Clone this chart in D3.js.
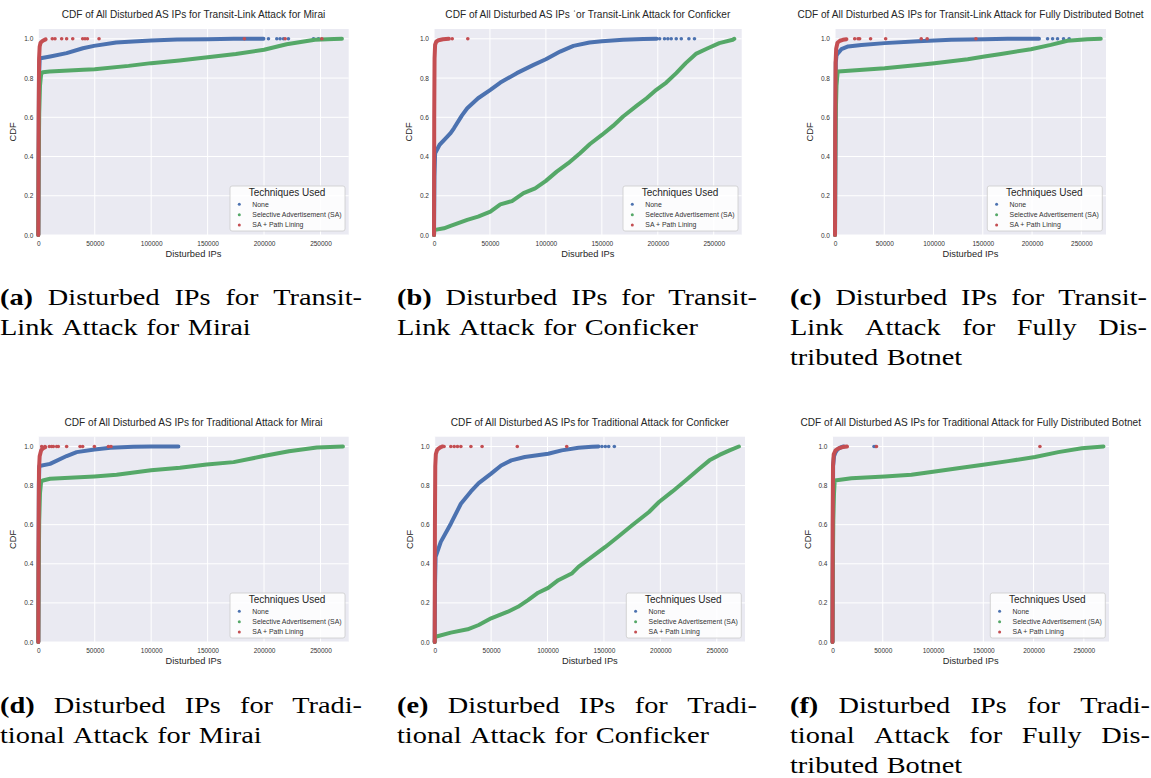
<!DOCTYPE html>
<html><head><meta charset="utf-8">
<script src="https://cdn.jsdelivr.net/npm/d3@7/dist/d3.min.js"></script>
<style>body{margin:0;background:#fff}svg{display:block}</style>
</head><body>
<svg id="chart" width="1151" height="778"></svg>
<script>
// ---------- shared ----------
const xTicks = [0, 50000, 100000, 150000, 200000, 250000];
const yTicks = [0, 0.2, 0.4, 0.6, 0.8, 1.0];
const seriesNames = ["None", "Selective Advertisement (SA)", "SA + Path Lining"];
const xMax = 275000, yMax = 1.05;

// ---------- (a) Transit-Link, Mirai ----------
const a_none = [[0,0],[600,0.8],[1200,0.895],[2000,0.901],[10600,0.91],[25100,0.927],[39500,0.952],[49300,0.964],[69000,0.981],[84000,0.986],[100000,0.991],[123000,0.997],[150000,0.998],[173000,1.0],[199500,1.0]];
const a_none_tail = [203900,211300,214200,217200,221600,243800,248200];
const a_sa = [[0,0],[300,0.35],[800,0.62],[1500,0.76],[2500,0.82],[4000,0.83],[10000,0.833],[40000,0.842],[50000,0.845],[80000,0.862],[100000,0.876],[125000,0.89],[150000,0.906],[175000,0.923],[200000,0.944],[220000,0.972],[245000,0.995],[262000,0.999],[269000,1.0]];
const a_sa_tail = [];
const a_pl = [[0,0],[300,0.6],[700,0.9],[1200,0.96],[2000,0.98],[4000,0.99],[6500,0.997]];
const a_pl_tail = [12400,14800,20700,25100,30500,39300,41400,43500,53800,182600,218700,251200];

// ---------- (b) Transit-Link, Conficker ----------
const b_none = [[0,0],[400,0.3],[1000,0.417],[5000,0.46],[10000,0.49],[14800,0.519],[17800,0.544],[25000,0.61],[29700,0.646],[39400,0.697],[50400,0.74],[59300,0.777],[74000,0.825],[89000,0.867],[100000,0.896],[112700,0.935],[124600,0.964],[139000,0.981],[150000,0.988],[169000,0.995],[187000,0.999],[199000,1.0]];
const b_none_tail = [201700,206000,209000,212000,216500,221000,227800,232800];
const b_sa = [[0,0],[300,0.02],[1000,0.026],[8900,0.034],[14800,0.046],[29700,0.077],[39400,0.094],[50400,0.119],[59300,0.156],[69700,0.173],[80000,0.213],[90400,0.238],[100000,0.276],[109700,0.323],[120000,0.366],[130500,0.417],[139400,0.464],[150000,0.51],[160000,0.556],[169000,0.604],[181000,0.658],[190000,0.697],[198700,0.74],[207600,0.777],[216500,0.825],[225000,0.876],[234000,0.923],[244700,0.952],[255000,0.978],[267000,0.995],[268400,1.0]];
const b_sa_tail = [];
const b_pl = [[0,0],[200,0.6],[500,0.9],[1000,0.97],[2000,0.985],[4000,0.993],[8000,0.998],[13300,1.0]];
const b_pl_tail = [16300,30200];

// ---------- (c) Transit-Link, Fully Distributed Botnet ----------
const c_none = [[0,0],[800,0.88],[1500,0.915],[3100,0.927],[6500,0.947],[13300,0.961],[26800,0.969],[50400,0.978],[84000,0.988],[117900,0.995],[151600,0.998],[175000,1.0],[207000,1.0]];
const c_none_tail = [215700,220800,225800,231900,237600];
const c_sa = [[0,0],[300,0.35],[800,0.62],[1500,0.76],[2500,0.82],[3100,0.833],[50400,0.85],[84000,0.867],[101000,0.876],[134700,0.896],[151600,0.91],[168500,0.923],[198800,0.947],[219000,0.969],[235900,0.99],[256000,0.998],[269700,1.0]];
const c_sa_tail = [];
const c_pl = [[0,0],[200,0.5],[600,0.88],[1200,0.95],[2500,0.98],[5000,0.99],[8000,0.995],[11600,0.998]];
const c_pl_tail = [20000,23400,25000,36100,51400,87500,93500,143000];

// ---------- (d) Traditional, Mirai ----------
const d_none = [[0,0],[500,0.8],[900,0.9],[10400,0.911],[25100,0.951],[34000,0.971],[49700,0.985],[63900,0.993],[84200,0.998],[99900,1.0],[124100,1.0]];
const d_none_tail = [];
const d_sa = [[0,0],[300,0.35],[800,0.62],[1500,0.76],[2500,0.82],[4000,0.826],[10400,0.835],[49700,0.847],[69400,0.855],[99900,0.878],[125500,0.891],[149200,0.908],[173000,0.92],[199600,0.951],[222100,0.976],[246800,0.995],[269900,1.0]];
const d_sa_tail = [];
const d_pl = [[0,0],[200,0.5],[600,0.88],[1200,0.95],[2500,0.98],[4000,0.99],[6000,0.996]];
const d_pl_tail = [3000,5900,9800,11800,13300,16300,17700,25100,37000,39300,49700,62100,64400];

// ---------- (e) Traditional, Conficker ----------
const e_none = [[0,0],[300,0.3],[800,0.435],[5400,0.512],[14300,0.605],[23200,0.707],[32100,0.77],[39000,0.813],[50000,0.861],[58900,0.903],[67900,0.929],[79800,0.946],[100600,0.963],[112500,0.98],[127400,0.993],[139300,0.998],[145200,1.0]];
const e_none_tail = [148200,151200,154200,159200];
const e_sa = [[0,0],[300,0.02],[800,0.027],[14300,0.048],[29200,0.065],[39000,0.087],[50000,0.121],[64900,0.155],[73800,0.18],[82700,0.214],[91700,0.252],[100600,0.277],[109500,0.316],[121400,0.35],[127400,0.384],[139300,0.435],[151200,0.486],[163100,0.541],[175000,0.597],[189900,0.665],[198800,0.716],[210700,0.77],[222600,0.827],[234500,0.886],[243500,0.929],[252400,0.957],[261300,0.98],[269600,1.0]];
const e_sa_tail = [];
const e_pl = [[0,0],[200,0.6],[500,0.9],[1000,0.96],[2000,0.98],[3500,0.99],[5500,0.997],[7000,1.0]];
const e_pl_tail = [8300,14300,17300,20200,23200,32100,42000,73200,117000];

// ---------- (f) Traditional, Fully Distributed Botnet ----------
const f_none = [[0,0],[600,0.9],[1500,0.95],[3000,0.97],[5000,0.985],[8000,0.995],[11000,1.0]];
const f_none_tail = [41300,42700];
const f_sa = [[0,0],[300,0.35],[800,0.62],[1500,0.76],[2200,0.826],[18800,0.838],[52000,0.847],[78500,0.855],[101800,0.872],[128300,0.891],[151600,0.908],[174800,0.925],[201400,0.946],[224600,0.971],[247900,0.991],[269500,1.0]];
const f_sa_tail = [];
const f_pl = [[0,0],[200,0.6],[500,0.9],[1200,0.96],[3000,0.98],[6000,0.99],[10000,0.997],[14400,1.0]];
const f_pl_tail = [43700,206300];

// ---------- titles / captions ----------
const titles = [
  "CDF of All Disturbed AS IPs for Transit-Link Attack for Mirai",
  "CDF of All Disturbed AS IPs \u02c8or Transit-Link Attack for Conficker",
  "CDF of All Disturbed AS IPs for Transit-Link Attack for Fully Distributed Botnet",
  "CDF of All Disturbed AS IPs for Traditional Attack for Mirai",
  "CDF of All Disturbed AS IPs\u2009for Traditional Attack for Conficker",
  "CDF of All Disturbed AS IPs for Traditional Attack for Fully Distributed Botnet"
];
const xLabels = ["Disturbed IPs","Disurbed IPs","Disturbed IPs","Disturbed IPs","Disturbed IPs","Disturbed IPs"];
const captions = [
  ["(a) Disturbed IPs for Transit-", "Link Attack for Mirai"],
  ["(b) Disturbed IPs for Transit-", "Link Attack for Conficker"],
  ["(c) Disturbed IPs for Transit-", "Link Attack for Fully Dis-", "tributed Botnet"],
  ["(d) Disturbed IPs for Tradi-", "tional Attack for Mirai"],
  ["(e) Disturbed IPs for Tradi-", "tional Attack for Conficker"],
  ["(f) Disturbed IPs for Tradi-", "tional Attack for Fully Dis-", "tributed Botnet"]
];

// ---------- layout (positions only) ----------
const layout = [
  {l:38.3, t:29,    r:348.7, b:235, cx:0,   cy:305, cw:362},
  {l:434,  t:29,    r:741.7, b:235, cx:397, cy:305, cw:360},
  {l:835,  t:29,    r:1106,  b:235, cx:790, cy:305, cw:357},
  {l:38.3, t:436.7, r:348.7, b:642, cx:0,   cy:713, cw:362},
  {l:434.7,t:436.7, r:745,   b:642, cx:397, cy:713, cw:360},
  {l:832.5,t:436.7, r:1109,  b:642, cx:790, cy:713, cw:360}
];
const curves = [[a_none,a_sa,a_pl],[b_none,b_sa,b_pl],[c_none,c_sa,c_pl],[d_none,d_sa,d_pl],[e_none,e_sa,e_pl],[f_none,f_sa,f_pl]];
const tails = [[a_none_tail,a_sa_tail,a_pl_tail],[b_none_tail,b_sa_tail,b_pl_tail],[c_none_tail,c_sa_tail,c_pl_tail],[d_none_tail,d_sa_tail,d_pl_tail],[e_none_tail,e_sa_tail,e_pl_tail],[f_none_tail,f_sa_tail,f_pl_tail]];

const colors = ["#4C72B0", "#55A868", "#C44E52"];
const SANS = "'Liberation Sans', Arial, 'DejaVu Sans', sans-serif";
const SERIF = "'Liberation Serif', 'DejaVu Serif', serif";

const svg = d3.select("#chart");

layout.forEach((L, pi) => {
  const g = svg.append("g");
  const x = d3.scaleLinear().domain([0, xMax]).range([L.l, L.r]);
  const y = d3.scaleLinear().domain([0, yMax]).range([L.b, L.t]);

  g.append("rect").attr("x", L.l).attr("y", L.t).attr("width", L.r - L.l).attr("height", L.b - L.t).attr("fill", "#EAEAF2");
  g.selectAll(".gx").data(xTicks).join("line")
    .attr("x1", d => x(d)).attr("x2", d => x(d)).attr("y1", L.t).attr("y2", L.b)
    .attr("stroke", "#fff").attr("stroke-width", 1);
  g.selectAll(".gy").data(yTicks).join("line")
    .attr("y1", d => y(d)).attr("y2", d => y(d)).attr("x1", L.l).attr("x2", L.r)
    .attr("stroke", "#fff").attr("stroke-width", 1);

  const xa = g.append("g").attr("transform", `translate(0,${L.b})`)
    .call(d3.axisBottom(x).tickValues(xTicks).tickSize(0).tickPadding(6).tickFormat(d3.format("d")));
  const ya = g.append("g").attr("transform", `translate(${L.l},0)`)
    .call(d3.axisLeft(y).tickValues(yTicks).tickSize(0).tickPadding(5).tickFormat(d3.format(".1f")));
  [xa, ya].forEach(a => {
    a.select(".domain").remove();
    a.selectAll("text").attr("font-family", SANS).attr("font-size", 6.5).attr("fill", "#333");
  });

  const line = d3.line().x(d => x(d[0])).y(d => y(d[1]));
  curves[pi].forEach((c, si) => {
    g.append("path").attr("d", line(c)).attr("fill", "none")
      .attr("stroke", colors[si]).attr("stroke-width", 4)
      .attr("stroke-linecap", "round").attr("stroke-linejoin", "round");
    g.selectAll(null).data(tails[pi][si]).join("circle")
      .attr("cx", d => x(d)).attr("cy", y(1.0)).attr("r", 1.8).attr("fill", colors[si]);
  });

  g.append("text").attr("x", (L.l + L.r) / 2).attr("y", L.t - 11).attr("text-anchor", "middle")
    .attr("font-family", SANS).attr("font-size", 10.1).attr("fill", "#262626").text(titles[pi]);
  g.append("text").attr("x", (L.l + L.r) / 2).attr("y", L.b + 22).attr("text-anchor", "middle")
    .attr("font-family", SANS).attr("font-size", 9.3).attr("fill", "#262626").text(xLabels[pi]);
  g.append("text").attr("transform", `translate(${L.l - 22},${(L.t + L.b) / 2}) rotate(-90)`)
    .attr("text-anchor", "middle").attr("font-family", SANS).attr("font-size", 9.3).attr("fill", "#262626").text("CDF");

  const lw = 115, lh = 45;
  const lx = L.r - 3.7 - lw, ly = L.b - 4 - lh;
  const lg = g.append("g").attr("transform", `translate(${lx},${ly})`);
  lg.append("rect").attr("width", lw).attr("height", lh).attr("rx", 2)
    .attr("fill", "#fff").attr("fill-opacity", 0.85).attr("stroke", "#cccccc").attr("stroke-width", 0.8);
  lg.append("text").attr("x", lw / 2 - 0.5).attr("y", 10.3).attr("text-anchor", "middle")
    .attr("font-family", SANS).attr("font-size", 10).attr("fill", "#262626").text("Techniques Used");
  seriesNames.forEach((n, i) => {
    const yy = 18.3 + i * 10.4;
    lg.append("circle").attr("cx", 9.3).attr("cy", yy).attr("r", 1.5).attr("fill", colors[i]);
    lg.append("text").attr("x", 22.3).attr("y", yy + 2.3).attr("font-family", SANS).attr("font-size", 6.9)
      .attr("fill", "#333").text(n);
  });

  // caption (justified)
  const SX = 1.26, FS = 22.5, LH = 30;
  const cg = svg.append("g").attr("font-family", SERIF).attr("font-size", FS).attr("fill", "#000");
  const lines = captions[pi];
  lines.forEach((ln, li) => {
    const words = ln.split(" ");
    const yy = L.cy + li * LH;
    const nodes = words.map((w, wi) => cg.append("text").attr("font-weight", (li === 0 && wi === 0) ? "bold" : "normal").text(w));
    const widths = nodes.map(n => n.node().getComputedTextLength() * SX);
    const last = li === lines.length - 1;
    const gap = last ? FS * 0.3 * SX : (L.cw - d3.sum(widths)) / (words.length - 1);
    let xx = L.cx;
    nodes.forEach((n, wi) => {
      n.attr("transform", `translate(${xx},${yy}) scale(${SX},1)`);
      xx += widths[wi] + gap;
    });
  });
});
</script>
</body></html>
